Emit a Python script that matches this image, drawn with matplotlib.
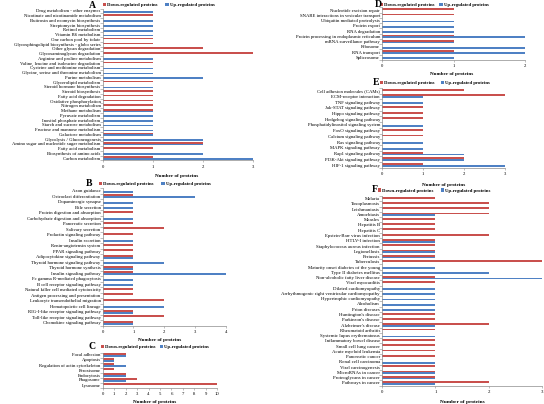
import numpy as np
import matplotlib.pyplot as plt

plt.rcParams['font.family'] = ['Liberation Serif', 'DejaVu Serif']

# Panel A - metabolism
cats_a = ["Drug metabolism - other enzymes", "Nicotinate and nicotinamide metabolism",
          "Butirosin and neomycin biosynthesis", "Streptomycin biosynthesis", "Retinol metabolism",
          "Vitamin B6 metabolism", "One carbon pool by folate",
          "Glycosphingolipid biosynthesis - globo series", "Other glycan degradation",
          "Glycosaminoglycan degradation", "Arginine and proline metabolism",
          "Valine, leucine and isoleucine degradation", "Cysteine and methionine metabolism",
          "Glycine, serine and threonine metabolism", "Purine metabolism", "Glycerolipid metabolism",
          "Steroid hormone biosynthesis", "Steroid biosynthesis", "Fatty acid degradation",
          "Oxidative phosphorylation", "Nitrogen metabolism", "Methane metabolism",
          "Pyruvate metabolism", "Inositol phosphate metabolism", "Starch and sucrose metabolism",
          "Fructose and mannose metabolism", "Galactose metabolism", "Glycolysis / Gluconeogenesis",
          "Amino sugar and nucleotide sugar metabolism", "Fatty acid metabolism",
          "Biosynthesis of amino acids", "Carbon metabolism"]
down_a = [0, 1, 0, 0, 0, 0, 1, 1, 2, 3, 0, 1, 0, 0, 0, 1, 0, 1, 1, 1, 1, 1, 0, 0, 0, 0, 1, 0, 2, 1, 0, 1]
up_a = [1, 0, 1, 1, 1, 1, 0, 0, 0, 0, 1, 0, 1, 1, 2, 0, 1, 0, 0, 0, 0, 1, 1, 1, 1, 1, 1, 2, 2, 0, 2, 3]

# Panel B - organismal systems
cats_b = ["Axon guidance", "Osteoclast differentiation", "Dopaminergic synapse", "Bile secretion",
          "Protein digestion and absorption", "Carbohydrate digestion and absorption",
          "Pancreatic secretion", "Salivary secretion", "Prolactin signaling pathway",
          "Insulin secretion", "Renin-angiotensin system", "PPAR signaling pathway",
          "Adipocytokine signaling pathway", "Thyroid hormone signaling pathway",
          "Thyroid hormone synthesis", "Insulin signaling pathway", "Fc gamma R-mediated phagocytosis",
          "B cell receptor signaling pathway", "Natural killer cell mediated cytotoxicity",
          "Antigen processing and presentation", "Leukocyte transendothelial migration",
          "Hematopoietic cell lineage", "RIG-I-like receptor signaling pathway",
          "Toll-like receptor signaling pathway", "Chemokine signaling pathway"]
down_b = [0, 1, 0, 0, 1, 0, 1, 2, 1, 0, 1, 1, 1, 0, 1, 1, 0, 0, 1, 1, 2, 0, 1, 2, 1]
up_b = [1, 3, 1, 1, 0, 1, 0, 0, 0, 1, 0, 0, 1, 2, 1, 4, 1, 1, 0, 0, 0, 2, 1, 0, 1]

# Panel C - cellular processes
cats_c = ["Focal adhesion", "Apoptosis", "Regulation of actin cytoskeleton", "Peroxisome",
          "Endocytosis", "Phagosome", "Lysosome"]
down_c = [2, 1, 1, 1, 2, 3, 10]
up_c = [2, 1, 2, 0, 2, 2, 0]

# Panel D - genetic information processing
cats_d = ["Nucleotide excision repair", "SNARE interactions in vesicular transport",
          "Ubiquitin mediated proteolysis", "Protein export", "RNA degradation",
          "Protein processing in endoplasmic reticulum", "mRNA surveillance pathway", "Ribosome",
          "RNA transport", "Spliceosome"]
down_d = [1, 1, 0, 0, 0, 1, 1, 0, 1, 0]
up_d = [0, 0, 1, 1, 1, 2, 1, 2, 2, 1]

# Panel E - environmental information processing
cats_e = ["Cell adhesion molecules (CAMs)", "ECM-receptor interaction", "TNF signaling pathway",
          "Jak-STAT signaling pathway", "Hippo signaling pathway", "Hedgehog signaling pathway",
          "Phosphatidylinositol signaling system", "FoxO signaling pathway",
          "Calcium signaling pathway", "Ras signaling pathway", "MAPK signaling pathway",
          "Rap1 signaling pathway", "PI3K-Akt signaling pathway", "HIF-1 signaling pathway"]
down_e = [2, 3, 0, 1, 1, 1, 0, 1, 1, 0, 0, 1, 2, 1]
up_e = [0, 1, 1, 0, 0, 0, 1, 0, 0, 1, 1, 2, 2, 3]

# Panel F - human diseases
cats_f = ["Malaria", "Toxoplasmosis", "Leishmaniasis", "Amoebiasis", "Measles", "Hepatitis B",
          "Hepatitis C", "Epstein-Barr virus infection", "HTLV-I infection",
          "Staphylococcus aureus infection", "Legionellosis", "Pertussis", "Tuberculosis",
          "Maturity onset diabetes of the young", "Type II diabetes mellitus",
          "Non-alcoholic fatty liver disease", "Viral myocarditis", "Dilated cardiomyopathy",
          "Arrhythmogenic right ventricular cardiomyopathy", "Hypertrophic cardiomyopathy",
          "Alcoholism", "Prion diseases", "Huntington's disease", "Parkinson's disease",
          "Alzheimer's disease", "Rheumatoid arthritis", "Systemic lupus erythematosus",
          "Inflammatory bowel disease", "Small cell lung cancer", "Acute myeloid leukemia",
          "Pancreatic cancer", "Renal cell carcinoma", "Viral carcinogenesis",
          "MicroRNAs in cancer", "Proteoglycans in cancer", "Pathways in cancer"]
down_f = [1, 2, 2, 2, 1, 1, 1, 2, 1, 1, 1, 1, 3, 0, 0, 1, 1, 0, 0, 0, 0, 0, 1, 1, 2, 1, 0, 1, 1, 1,
          1, 0, 1, 1, 1, 2]
up_f = [0, 0, 0, 1, 0, 0, 0, 0, 1, 0, 1, 1, 0, 1, 2, 3, 0, 1, 1, 1, 1, 1, 0, 0, 1, 0, 1, 0, 0, 0,
        0, 1, 0, 1, 1, 1]

RED = '#C9504D'
BLUE = '#4F81C4'
W, H = 544, 404


def px_rect(x0, x1, y0, y1):
    """Converts pixel box (top-left origin) into a figure-fraction rect"""
    return [x0 / W, 1 - y1 / H, (x1 - x0) / W, (y1 - y0) / H]


def draw_panel(fig, box, cats, down, up, xmax, letter, letter_xy, legend_xy, colsp, xlabel_xy, fs):
    """Draws one Excel-like clustered horizontal bar panel"""
    ax = fig.add_axes(px_rect(*box))
    y = np.arange(len(cats))
    h = 0.33
    ax.barh(y - h / 2, down, h, color=RED, label='Down-regulated proteins')
    ax.barh(y + h / 2, up, h, color=BLUE, label='Up-regulated proteins')
    ax.set_ylim(len(cats) - 0.5, -0.5)
    ax.set_xlim(0, xmax)

    for s in ['top', 'right']:
        ax.spines[s].set_visible(False)
    for s in ['left', 'bottom']:
        ax.spines[s].set_color('#8c8c8c')
        ax.spines[s].set_linewidth(0.5)

    # category labels, tick marks between categories
    ax.set_yticks(y)
    ax.set_yticklabels(cats, fontsize=fs)
    ax.set_yticks(np.arange(len(cats) + 1) - 0.5, minor=True)
    ax.tick_params(axis='y', which='major', length=0, pad=1.5)
    ax.tick_params(axis='y', which='minor', length=2, width=0.4, color='#8c8c8c')
    ax.set_xticks(np.arange(0, xmax + 1))
    ax.tick_params(axis='x', length=1.5, width=0.4, color='#8c8c8c', labelsize=fs, pad=1.5)

    ax.set_xlabel('Number of proteins', fontsize=fs + 0.3, fontweight='bold')
    ax.xaxis.set_label_coords(xlabel_xy[0] / W, 1 - xlabel_xy[1] / H, transform=fig.transFigure)

    fig.text(letter_xy[0] / W, 1 - letter_xy[1] / H, letter, fontsize=7, fontweight='bold',
             ha='center', va='center')
    ax.legend(loc='center left', bbox_to_anchor=(legend_xy[0] / W, 1 - legend_xy[1] / H),
              bbox_transform=fig.transFigure, ncol=2, frameon=False,
              prop={'size': fs, 'weight': 'bold'}, handlelength=0.7, handleheight=0.7,
              handletextpad=0.2, columnspacing=colsp, borderpad=0, borderaxespad=0)
    return ax


fig = plt.figure(figsize=(5.44, 4.04), dpi=100)

draw_panel(fig, (102.7, 252.7, 8.6, 160.4), cats_a, down_a, up_a, 3, 'A', (92.7, 5),
           (103, 4.8), 1.6, (177, 174), 3.4)
draw_panel(fig, (102.7, 225.7, 188, 325.5), cats_b, down_b, up_b, 4, 'B', (89, 183.3),
           (99, 183.8), 1.6, (160, 338.5), 3.4)
draw_panel(fig, (102.7, 217.3, 352.5, 387.5), cats_c, down_c, up_c, 10, 'C', (91.7, 346.7),
           (100.5, 347.2), 0.9, (155, 399.5), 3.4)
draw_panel(fig, (382, 525.3, 7.4, 60), cats_d, down_d, up_d, 2, 'D', (378, 4.7),
           (380, 5), 1.0, (452, 72.5), 3.4)
draw_panel(fig, (382, 505.3, 87.8, 167.9), cats_e, down_e, up_e, 3, 'E', (376, 82.3),
           (379.5, 82.8), 1.4, (444, 182.5), 3.4)
draw_panel(fig, (382, 542, 196, 385.6), cats_f, down_f, up_f, 3, 'F', (375.3, 190),
           (378, 190.5), 1.5, (462, 400.5), 3.5)

plt.savefig('out.png', dpi=100)
